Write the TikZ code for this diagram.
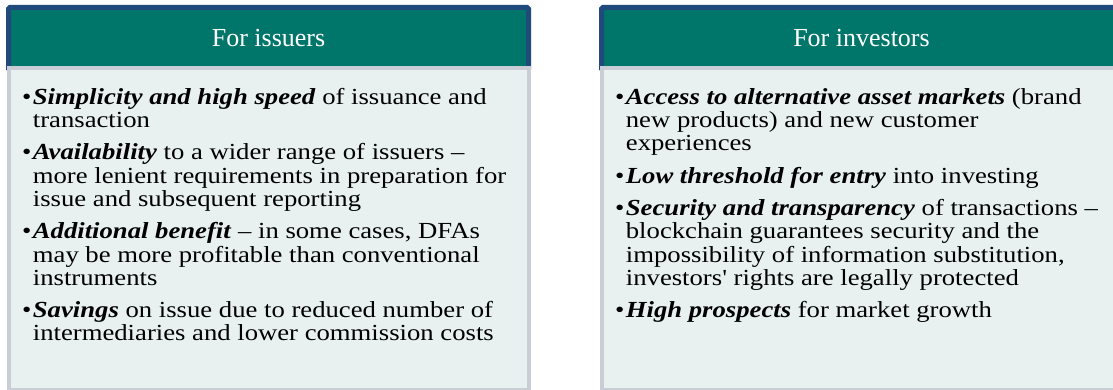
\documentclass[tikz,border=0pt]{standalone}
\usepackage{fontspec}
\setmainfont[FakeStretch=1.16,Ligatures=TeXOff]{Liberation Serif}
\newfontfamily\headfont{Liberation Serif}
\definecolor{teal1}{RGB}{0,117,106}
\definecolor{navy1}{RGB}{33,74,124}
\definecolor{bodyfill}{RGB}{232,241,240}
\definecolor{bodyline}{RGB}{201,206,214}
\tikzset{
  headbox/.style={fill=teal1,draw=navy1,line width=5pt,rounded corners=1.5pt},
  bodybox/.style={fill=bodyfill,draw=bodyline,line width=4pt},
  headtext/.style={text=white,font=\headfont\fontsize{26}{30}\selectfont,anchor=base,inner sep=0pt},
  itemtext/.style={anchor=base west,inner sep=0pt,font=\fontsize{23}{23.3}\selectfont},
  bul/.style={anchor=base west,inner sep=0pt,font=\fontsize{23}{23.3}\selectfont},
}
\newcommand{\bi}[1]{\textbf{\textit{#1}}}
\newcommand{\itemlines}[1]{\vtop{\baselineskip=23.3pt\lineskiplimit=-100pt\lineskip=0pt #1}}
\newcommand{\tline}[1]{\hbox{#1}}
\begin{document}
\begin{tikzpicture}[x=1pt,y=-1pt]
\useasboundingbox (0,0) rectangle (1113,390);
\clip (0,0) rectangle (1113,390);
% left box
\draw[headbox] (8.5,7.5) rectangle (528.5,70);
\draw[bodybox] (8.5,68) rectangle (529,390);
\node[headtext] (h1) at (268.5,46.7) {For issuers};
% right box
\draw[headbox] (601.5,7.5) rectangle (1121.5,70);
\draw[bodybox] (601.5,68) rectangle (1122,390);
\node[headtext] (h2) at (861.5,46.7) {For investors};
% left items
\node[bul] (lb1) at (22,104.2) {•};
\node[itemtext] (l1) at (32.7,104.2) {\itemlines{\tline{\bi{Simplicity and high speed} of issuance and}\tline{transaction}}};
\node[bul] (lb2) at (22,159.8) {•};
\node[itemtext] (l2) at (32.7,159.8) {\itemlines{\tline{\bi{Availability} to a wider range of issuers –}\tline{more lenient requirements in preparation for}\tline{issue and subsequent reporting}}};
\node[bul] (lb3) at (22,238.8) {•};
\node[itemtext] (l3) at (32.7,238.8) {\itemlines{\tline{\bi{Additional benefit} – in some cases, DFAs}\tline{may be more profitable than conventional}\tline{instruments}}};
\node[bul] (lb4) at (22,317) {•};
\node[itemtext] (l4) at (32.7,317) {\itemlines{\tline{\bi{Savings} on issue due to reduced number of}\tline{intermediaries and lower commission costs}}};
% right items
\node[bul] (rb1) at (615,104.2) {•};
\node[itemtext] (r1) at (625.7,104.2) {\itemlines{\tline{\bi{Access to alternative asset markets} (brand}\tline{new products) and new customer}\tline{experiences}}};
\node[bul] (rb2) at (615,183.1) {•};
\node[itemtext] (r2) at (625.7,183.1) {\itemlines{\tline{\bi{Low threshold for entry} into investing}}};
\node[bul] (rb3) at (615,215.4) {•};
\node[itemtext] (r3) at (625.7,215.4) {\itemlines{\tline{\bi{Security and transparency} of transactions –}\tline{blockchain guarantees security and the}\tline{impossibility of information substitution,}\tline{investors' rights are legally protected}}};
\node[bul] (rb4) at (615,317.6) {•};
\node[itemtext] (r4) at (625.7,317.6) {\itemlines{\tline{\bi{High prospects} for market growth}}};
\end{tikzpicture}
\end{document}
